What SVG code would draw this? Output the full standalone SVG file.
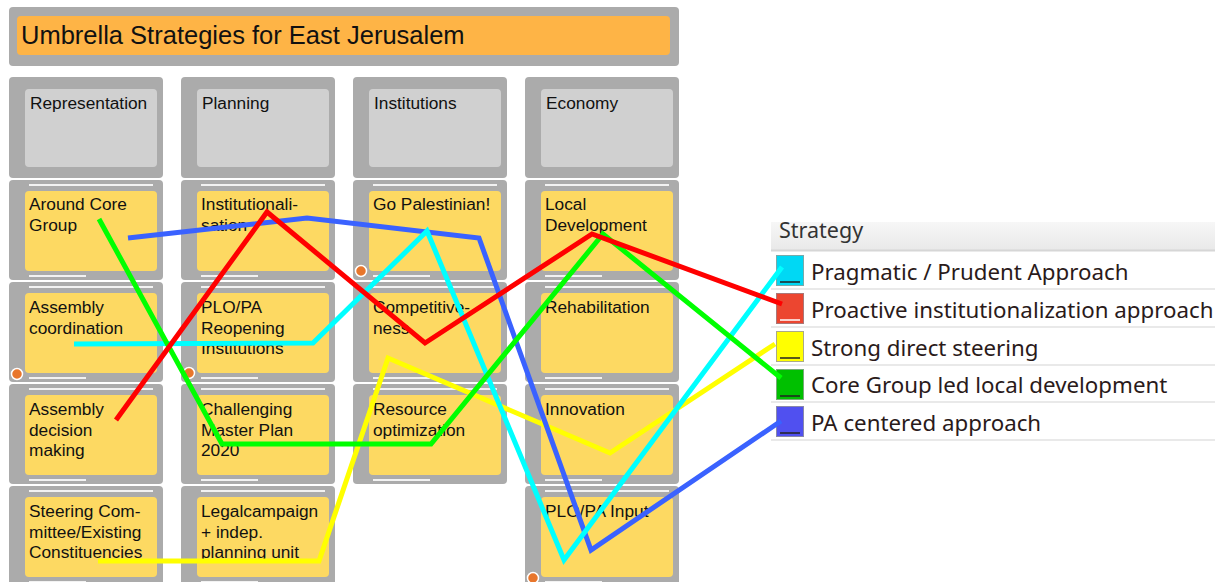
<svg xmlns="http://www.w3.org/2000/svg" width="1223" height="582" viewBox="0 0 1223 582">
<style>
.outer{fill:#ababab}
.hdr{fill:#d0d0d0}
.card{fill:#fdd962}
.t{font-family:"Liberation Sans",Arial,sans-serif;font-size:17.3px;fill:#111}
.wl{stroke:#f2f2f2;stroke-width:2}
.dot{fill:#e8762c;stroke:#fff;stroke-width:1.5}
.leg{font-family:"Noto Sans","Open Sans",sans-serif;font-size:22.3px;fill:#2a1a1a}
.sep{stroke:#e2e2e2;stroke-width:1.5}
.ln{fill:none;stroke-width:5;stroke-linejoin:miter}
</style>
<defs>
<linearGradient id="lh" x1="0" y1="0" x2="0" y2="1"><stop offset="0" stop-color="#f7f7f7"/><stop offset="1" stop-color="#e9e9e9"/></linearGradient>
</defs>
<rect width="1223" height="582" fill="#fff"/>
<g id="title">
<rect class="outer" x="9" y="7" width="670" height="59" rx="4"/>
<rect x="17" y="16" width="653" height="39" rx="4" fill="#feb446"/>
<text x="21" y="44" font-family="Liberation Sans,Arial,sans-serif" font-size="25.5" fill="#111">Umbrella Strategies for East Jerusalem</text>
</g>
<g id="hdr-representation"><rect class="outer" x="9" y="77" width="154" height="101" rx="4"/><rect class="hdr" x="25" y="89" width="132" height="78" rx="4"/><text class="t" x="30" y="109">Representation</text></g>
<g id="hdr-planning"><rect class="outer" x="181" y="77" width="154" height="101" rx="4"/><rect class="hdr" x="197" y="89" width="132" height="78" rx="4"/><text class="t" x="202" y="109">Planning</text></g>
<g id="hdr-institutions"><rect class="outer" x="353" y="77" width="154" height="101" rx="4"/><rect class="hdr" x="369" y="89" width="132" height="78" rx="4"/><text class="t" x="374" y="109">Institutions</text></g>
<g id="hdr-economy"><rect class="outer" x="525" y="77" width="154" height="101" rx="4"/><rect class="hdr" x="541" y="89" width="132" height="78" rx="4"/><text class="t" x="546" y="109">Economy</text></g>

<g id="c11"><rect class="outer" x="9" y="180" width="154" height="100" rx="4"/><line class="wl" x1="29" y1="185" x2="153" y2="185"/><rect class="card" x="25" y="191" width="132" height="80" rx="4"/><line class="wl" x1="29" y1="276" x2="86" y2="276"/><text class="t" x="29" y="210">Around Core<tspan x="29" dy="20.5">Group</tspan></text></g>
<g id="c12"><rect class="outer" x="9" y="282" width="154" height="100" rx="4"/><line class="wl" x1="29" y1="287" x2="153" y2="287"/><rect class="card" x="25" y="293" width="132" height="80" rx="4"/><line class="wl" x1="29" y1="378" x2="86" y2="378"/><text class="t" x="29" y="313">Assembly<tspan x="29" dy="20.5">coordination</tspan></text><circle class="dot" cx="17" cy="374" r="5.5"/></g>
<g id="c13"><rect class="outer" x="9" y="384" width="154" height="100" rx="4"/><line class="wl" x1="29" y1="389" x2="153" y2="389"/><rect class="card" x="25" y="395" width="132" height="80" rx="4"/><line class="wl" x1="29" y1="480" x2="86" y2="480"/><text class="t" x="29" y="415">Assembly<tspan x="29" dy="20.5">decision</tspan><tspan x="29" dy="20.5">making</tspan></text></g>
<g id="c14"><rect class="outer" x="9" y="486" width="154" height="100" rx="4"/><line class="wl" x1="29" y1="491" x2="153" y2="491"/><rect class="card" x="25" y="497" width="132" height="80" rx="4"/><line class="wl" x1="29" y1="582" x2="86" y2="582"/><text class="t" x="29" y="517">Steering Com-<tspan x="29" dy="20.5">mittee/Existing</tspan><tspan x="29" dy="20.5">Constituencies</tspan></text></g>

<g id="c21"><rect class="outer" x="181" y="180" width="154" height="100" rx="4"/><line class="wl" x1="201" y1="185" x2="325" y2="185"/><rect class="card" x="197" y="191" width="132" height="80" rx="4"/><line class="wl" x1="201" y1="276" x2="258" y2="276"/><text class="t" x="201" y="210">Institutionali-<tspan x="201" dy="20.5">sation</tspan></text></g>
<g id="c22"><rect class="outer" x="181" y="282" width="154" height="100" rx="4"/><line class="wl" x1="201" y1="287" x2="325" y2="287"/><rect class="card" x="197" y="293" width="132" height="80" rx="4"/><line class="wl" x1="201" y1="378" x2="258" y2="378"/><text class="t" x="201" y="313">PLO/PA<tspan x="201" dy="20.5">Reopening</tspan><tspan x="201" dy="20.5">Institutions</tspan></text><circle class="dot" cx="189" cy="373" r="5.5"/></g>
<g id="c23"><rect class="outer" x="181" y="384" width="154" height="100" rx="4"/><line class="wl" x1="201" y1="389" x2="325" y2="389"/><rect class="card" x="197" y="395" width="132" height="80" rx="4"/><line class="wl" x1="201" y1="480" x2="258" y2="480"/><text class="t" x="201" y="415">Challenging<tspan x="201" dy="20.5">Master Plan</tspan><tspan x="201" dy="20.5">2020</tspan></text></g>
<g id="c24"><rect class="outer" x="181" y="486" width="154" height="100" rx="4"/><line class="wl" x1="201" y1="491" x2="325" y2="491"/><rect class="card" x="197" y="497" width="132" height="80" rx="4"/><line class="wl" x1="201" y1="582" x2="258" y2="582"/><text class="t" x="201" y="517">Legalcampaign<tspan x="201" dy="20.5">+ indep.</tspan><tspan x="201" dy="20.5">planning unit</tspan></text></g>

<g id="c31"><rect class="outer" x="353" y="180" width="154" height="100" rx="4"/><line class="wl" x1="373" y1="185" x2="497" y2="185"/><rect class="card" x="369" y="191" width="132" height="80" rx="4"/><line class="wl" x1="373" y1="276" x2="430" y2="276"/><text class="t" x="373" y="210">Go Palestinian!</text><circle class="dot" cx="361" cy="271" r="5.5"/></g>
<g id="c32"><rect class="outer" x="353" y="282" width="154" height="100" rx="4"/><line class="wl" x1="373" y1="287" x2="497" y2="287"/><rect class="card" x="369" y="293" width="132" height="80" rx="4"/><line class="wl" x1="373" y1="378" x2="430" y2="378"/><text class="t" x="373" y="313">Competitive-<tspan x="373" dy="20.5">ness</tspan></text></g>
<g id="c33"><rect class="outer" x="353" y="384" width="154" height="100" rx="4"/><line class="wl" x1="373" y1="389" x2="497" y2="389"/><rect class="card" x="369" y="395" width="132" height="80" rx="4"/><line class="wl" x1="373" y1="480" x2="430" y2="480"/><text class="t" x="373" y="415">Resource<tspan x="373" dy="20.5">optimization</tspan></text></g>

<g id="c41"><rect class="outer" x="525" y="180" width="154" height="100" rx="4"/><line class="wl" x1="545" y1="185" x2="669" y2="185"/><rect class="card" x="541" y="191" width="132" height="80" rx="4"/><line class="wl" x1="545" y1="276" x2="602" y2="276"/><text class="t" x="545" y="210">Local<tspan x="545" dy="20.5">Development</tspan></text></g>
<g id="c42"><rect class="outer" x="525" y="282" width="154" height="100" rx="4"/><line class="wl" x1="545" y1="287" x2="669" y2="287"/><rect class="card" x="541" y="293" width="132" height="80" rx="4"/><line class="wl" x1="545" y1="378" x2="602" y2="378"/><text class="t" x="545" y="313">Rehabilitation</text></g>
<g id="c43"><rect class="outer" x="525" y="384" width="154" height="100" rx="4"/><line class="wl" x1="545" y1="389" x2="669" y2="389"/><rect class="card" x="541" y="395" width="132" height="80" rx="4"/><line class="wl" x1="545" y1="480" x2="602" y2="480"/><text class="t" x="545" y="415">Innovation</text></g>
<g id="c44"><rect class="outer" x="525" y="486" width="154" height="100" rx="4"/><line class="wl" x1="545" y1="491" x2="669" y2="491"/><rect class="card" x="541" y="497" width="132" height="80" rx="4"/><line class="wl" x1="545" y1="582" x2="602" y2="582"/><text class="t" x="545" y="517">PLO/PA Input</text><circle class="dot" cx="533" cy="578" r="5.5"/></g>

<g id="legend">
<rect x="771" y="222" width="444" height="28" fill="url(#lh)"/>
<line x1="771" y1="250.5" x2="1215" y2="250.5" stroke="#d6d6d6" stroke-width="2"/>
<text x="779" y="238" font-family="Noto Sans,Open Sans,sans-serif" font-size="21.5" fill="#333">Strategy</text>
<line class="sep" x1="771" y1="289" x2="1215" y2="289"/>
<line class="sep" x1="771" y1="327" x2="1215" y2="327"/>
<line class="sep" x1="771" y1="365" x2="1215" y2="365"/>
<line class="sep" x1="771" y1="402" x2="1215" y2="402"/>
<line class="sep" x1="771" y1="440" x2="1215" y2="440"/>
<rect x="776.5" y="255.5" width="27" height="30" fill="#00d8f4" stroke="#7aa" stroke-width="1"/><line x1="780" y1="282" x2="800" y2="282" stroke="#222" stroke-width="1.5"/>
<rect x="776.5" y="293.5" width="27" height="30" fill="#ec4630" stroke="#a77" stroke-width="1"/><line x1="780" y1="320" x2="800" y2="320" stroke="#fff" stroke-width="1.5"/>
<rect x="776.5" y="331.5" width="27" height="30" fill="#ffff00" stroke="#aa8" stroke-width="1"/><line x1="780" y1="358" x2="800" y2="358" stroke="#222" stroke-width="1.5"/>
<rect x="776.5" y="369.5" width="27" height="30" fill="#00c000" stroke="#7a7" stroke-width="1"/><line x1="780" y1="396" x2="800" y2="396" stroke="#222" stroke-width="1.5"/>
<rect x="776.5" y="406.5" width="27" height="30" fill="#5050f0" stroke="#88a" stroke-width="1"/><line x1="780" y1="433" x2="800" y2="433" stroke="#222" stroke-width="1.5"/>
<text class="leg" x="811" y="280">Pragmatic / Prudent Approach</text>
<text class="leg" x="811" y="318">Proactive institutionalization approach</text>
<text class="leg" x="811" y="356">Strong direct steering</text>
<text class="leg" x="811" y="393">Core Group led local development</text>
<text class="leg" x="811" y="431">PA centered approach</text>
</g>

<g id="connectors">
<polyline class="ln" stroke="#ffff00" points="98,561 319,561 388,358 610,453 775,344"/>
<polyline class="ln" stroke="#3a62ff" points="128,238 307,218 479,238 591,550 781,421"/>
<polyline class="ln" stroke="#00ffff" points="74,344 313,343 427,231 564,560 782,267"/>
<polyline class="ln" stroke="#00ff00" points="99,219 222,444 431,444 603,234 781,378"/>
<polyline class="ln" stroke="#ff0000" points="116,420 267,212 425,343 592,234 782,304"/>
</g>
</svg>
